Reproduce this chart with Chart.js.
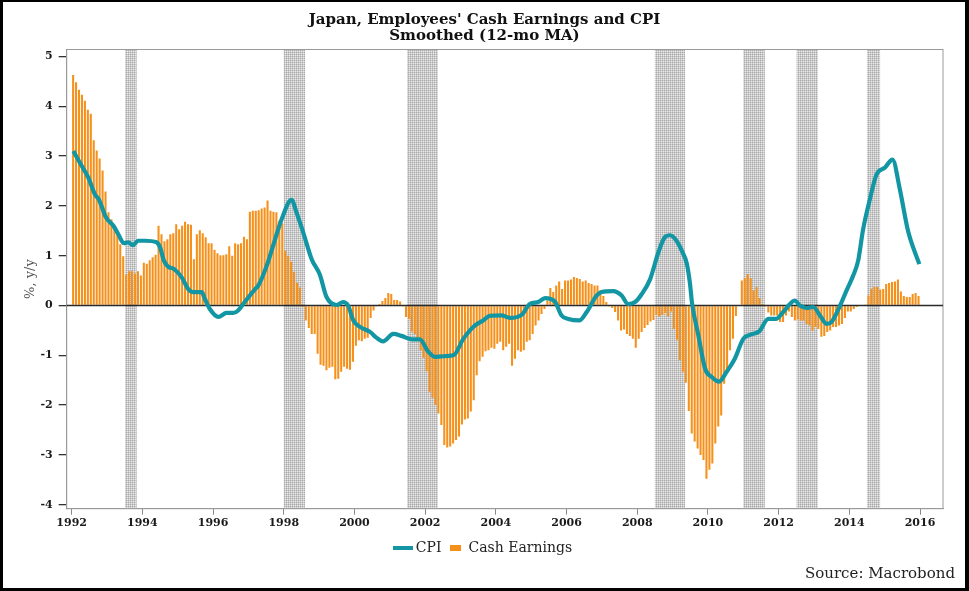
<!DOCTYPE html>
<html>
<head>
<meta charset="utf-8">
<title>Japan, Employees' Cash Earnings and CPI</title>
<script src="https://cdn.jsdelivr.net/npm/chart.js@4.4.1/dist/chart.umd.min.js"></script>
<style>
  html, body { margin: 0; padding: 0; background: #fff; }
  #wrap { position: relative; width: 969px; height: 591px; }
  #chart { position: absolute; left: 0; top: 0; }
  #frame {
    position: absolute; left: 0; top: 0; width: 969px; height: 591px; box-sizing: border-box;
    border: 3px solid #000; border-top-width: 2px; border-right-width: 4px; pointer-events: none;
  }
</style>
</head>
<body>
<div id="wrap">
  <canvas id="chart" width="969" height="591"></canvas>
  <div id="frame"></div>
</div>
<script>
/*
  Japan, Employees' Cash Earnings and CPI - smoothed (12-mo MA), % y/y
  - monthly cash earnings as bars, CPI as a line, recession periods shaded
*/

// --- Data ---

const titleLines = ["Japan, Employees' Cash Earnings and CPI", "Smoothed (12-mo MA)"];
const yAxisLabel = "%, y/y";
const sourceText = "Source: Macrobond";

const startYear = 1992; // first monthly bar is Jan 1992
const xTicks = [1992, 1994, 1996, 1998, 2000, 2002, 2004, 2006, 2008, 2010, 2012, 2014, 2016];
const yTicks = [-4, -3, -2, -1, 0, 1, 2, 3, 4, 5];

// Cash earnings, % y/y, one value per month Jan 1992 - Dec 2015
const cashEarnings = [
  4.63, 4.48, 4.33, 4.23, 4.11, 3.93, 3.85, 3.32, 3.11, 2.95, 2.71, 2.29,          // 1992
  1.87, 1.73, 1.62, 1.45, 1.23, 0.99, 0.62, 0.69, 0.69, 0.64, 0.69, 0.60,          // 1993
  0.86, 0.84, 0.91, 0.97, 1.02, 1.60, 1.43, 1.29, 1.33, 1.43, 1.45, 1.63,          // 1994
  1.53, 1.60, 1.68, 1.63, 1.62, 0.93, 1.43, 1.51, 1.45, 1.37, 1.25, 1.25,          // 1995
  1.12, 1.05, 1.01, 1.01, 1.03, 1.19, 1.00, 1.25, 1.23, 1.25, 1.38, 1.33,          // 1996
  1.88, 1.90, 1.90, 1.91, 1.95, 1.97, 2.11, 1.90, 1.88, 1.87, 1.70, 1.65,          // 1997
  1.10, 1.00, 0.88, 0.68, 0.45, 0.36, -0.03, -0.30, -0.45, -0.57, -0.57, -0.97,    // 1998
  -1.19, -1.21, -1.30, -1.25, -1.23, -1.48, -1.47, -1.33, -1.23, -1.27, -1.29, -1.13, // 1999
  -0.81, -0.70, -0.72, -0.67, -0.65, -0.25, -0.10, -0.02, 0.03, 0.09, 0.15, 0.25,  // 2000
  0.23, 0.11, 0.11, 0.08, -0.02, -0.23, -0.27, -0.52, -0.57, -0.67, -0.90, -1.05,  // 2001
  -1.32, -1.73, -1.85, -2.00, -2.17, -2.40, -2.80, -2.85, -2.83, -2.77, -2.70, -2.63, // 2002
  -2.39, -2.29, -2.27, -2.13, -1.90, -1.40, -1.12, -1.03, -0.92, -0.90, -0.85, -0.87, // 2003
  -0.77, -0.73, -0.90, -0.83, -0.77, -1.21, -1.07, -0.90, -0.93, -0.90, -0.73, -0.70, // 2004
  -0.57, -0.40, -0.30, -0.17, -0.07, 0.10, 0.35, 0.27, 0.40, 0.48, 0.33, 0.50,     // 2005
  0.50, 0.52, 0.57, 0.55, 0.53, 0.48, 0.50, 0.45, 0.43, 0.40, 0.40, 0.30,          // 2006
  0.19, 0.07, -0.01, -0.05, -0.13, -0.30, -0.50, -0.48, -0.57, -0.61, -0.67, -0.85, // 2007
  -0.67, -0.53, -0.45, -0.39, -0.32, -0.29, -0.19, -0.22, -0.19, -0.15, -0.22, -0.12, // 2008
  -0.47, -0.69, -1.10, -1.33, -1.55, -2.12, -2.57, -2.73, -2.87, -3.00, -3.10, -3.48, // 2009
  -3.30, -3.17, -2.77, -2.43, -2.21, -1.57, -1.27, -0.90, -0.67, -0.21, 0.00, 0.50, // 2010
  0.55, 0.63, 0.55, 0.30, 0.37, 0.15, 0.03, -0.02, -0.14, -0.20, -0.20, -0.20,     // 2011
  -0.33, -0.33, -0.20, -0.12, -0.23, -0.30, -0.28, -0.30, -0.30, -0.37, -0.40, -0.50, // 2012
  -0.43, -0.47, -0.63, -0.61, -0.53, -0.50, -0.43, -0.43, -0.40, -0.37, -0.25, -0.12, // 2013
  -0.12, -0.07, -0.03, 0.00, 0.00, 0.02, 0.20, 0.33, 0.37, 0.37, 0.32, 0.33,       // 2014
  0.43, 0.45, 0.47, 0.48, 0.52, 0.28, 0.19, 0.17, 0.17, 0.23, 0.25, 0.19           // 2015
];

// CPI, % y/y (12-mo MA)
const cpiDates = [
  1992.05, 1992.23, 1992.47, 1992.66, 1992.77, 1992.97, 1993.18, 1993.32, 1993.48, 1993.60,
  1993.73, 1993.88, 1994.07, 1994.40, 1994.50, 1994.61, 1994.73, 1994.90, 1995.11, 1995.30,
  1995.44, 1995.68, 1995.77, 1995.91, 1996.15, 1996.38, 1996.57, 1996.71, 1996.85, 1997.19,
  1997.28, 1997.52, 1997.70, 1997.94, 1998.22, 1998.36, 1998.55, 1998.79, 1999.02, 1999.21,
  1999.50, 1999.68, 1999.82, 1999.97, 2000.16, 2000.44, 2000.63, 2000.81, 2001.10, 2001.33,
  2001.62, 2001.85, 2002.09, 2002.28, 2002.47, 2002.80, 2003.08, 2003.36, 2003.64, 2003.83,
  2004.16, 2004.40, 2004.73, 2004.96, 2005.20, 2005.39, 2005.67, 2005.86, 2006.05, 2006.36,
  2006.57, 2006.85, 2006.99, 2007.32, 2007.56, 2007.74, 2007.94, 2008.12, 2008.36, 2008.60,
  2008.78, 2008.93, 2009.11, 2009.28, 2009.40, 2009.49, 2009.55, 2009.73, 2009.92, 2010.10,
  2010.31, 2010.53, 2010.76, 2011.00, 2011.19, 2011.45, 2011.71, 2011.92, 2012.13, 2012.32,
  2012.46, 2012.60, 2012.79, 2012.98, 2013.17, 2013.36, 2013.50, 2013.74, 2013.92, 2014.11,
  2014.25, 2014.39, 2014.58, 2014.77, 2015.01, 2015.22, 2015.43, 2015.66, 2015.98
];
const cpiValues = [
  3.10, 2.87, 2.57, 2.23, 2.13, 1.77, 1.60, 1.43, 1.25, 1.27,
  1.21, 1.30, 1.30, 1.27, 1.17, 0.90, 0.78, 0.73, 0.57, 0.33,
  0.27, 0.27, 0.13, -0.07, -0.23, -0.15, -0.15, -0.10, 0.03, 0.33,
  0.40, 0.80, 1.20, 1.73, 2.12, 1.87, 1.47, 0.93, 0.62, 0.17,
  0.01, 0.07, 0.00, -0.30, -0.43, -0.53, -0.65, -0.72, -0.57, -0.61,
  -0.68, -0.68, -0.93, -1.03, -1.02, -1.00, -0.67, -0.43, -0.30, -0.21,
  -0.20, -0.25, -0.19, 0.03, 0.07, 0.15, 0.08, -0.20, -0.27, -0.30,
  -0.13, 0.20, 0.27, 0.29, 0.20, 0.03, 0.07, 0.22, 0.52, 1.07,
  1.37, 1.41, 1.30, 1.07, 0.85, 0.45, 0.05, -0.60, -1.27, -1.43,
  -1.53, -1.33, -1.07, -0.67, -0.59, -0.52, -0.27, -0.27, -0.13, 0.03,
  0.10, 0.00, -0.05, -0.03, -0.20, -0.37, -0.33, 0.00, 0.30, 0.60,
  0.90, 1.53, 2.13, 2.63, 2.77, 2.93, 2.33, 1.50, 0.83
];

// Recession periods (shaded)
const recessionStart = [1993.51, 1998.00, 2001.49, 2008.50, 2011.00, 2012.51, 2014.50];
const recessionEnd   = [1993.84, 1998.60, 2002.36, 2009.35, 2011.61, 2013.11, 2014.87];

// --- Styles ---

const SERIF = "'DejaVu Serif', 'Liberation Serif', serif";
const CPI_COLOR = '#1396a4';
const BAR_COLOR = '#f5901a';
const X_MIN = 1991.86, X_MAX = 2016.65;
const Y_MIN = -4.08, Y_MAX = 5.14;

// fine grey cross-hatch used for the recession shading
function makeHatch(){
  const c = document.createElement('canvas');
  c.width = 2; c.height = 2;
  const g = c.getContext('2d');
  g.fillStyle = '#a9a9a9'; g.fillRect(0, 0, 1, 1);
  g.fillStyle = '#cbcbcb'; g.fillRect(1, 0, 1, 1); g.fillRect(0, 1, 1, 1);
  g.fillStyle = '#e8e8e8'; g.fillRect(1, 1, 1, 1);
  return g.createPattern(c, 'repeat');
}

// legend swatches: a short thick line for CPI, a small flat box for the bars
function makeSwatch(w, h, color){
  const c = document.createElement('canvas');
  c.width = w; c.height = h;
  const g = c.getContext('2d');
  g.fillStyle = color;
  g.fillRect(0, 0, w, h);
  return c;
}
const cpiSwatch = makeSwatch(20, 4, CPI_COLOR);
const barSwatch = makeSwatch(11, 6, BAR_COLOR);

const decorPlugin = {
  id: 'decor',
  beforeDatasetsDraw(chart){
    const { ctx, chartArea: a, scales: { x } } = chart;
    ctx.save();
    ctx.fillStyle = makeHatch();
    recessionStart.forEach((s, i) => {
      const x0 = x.getPixelForValue(s);
      const x1 = x.getPixelForValue(recessionEnd[i]);
      ctx.fillRect(x0, a.top, x1 - x0, a.bottom - a.top);
    });
    // plot frame
    ctx.strokeStyle = '#9a9a9a';
    ctx.lineWidth = 1;
    ctx.strokeRect(a.left, a.top, a.right - a.left, a.bottom - a.top);
    ctx.restore();
  },
  afterDatasetDraw(chart, args){
    if (args.index !== 1) return; // zero line goes over bars, under CPI
    const { ctx, chartArea: a, scales: { y } } = chart;
    const y0 = y.getPixelForValue(0);
    ctx.save();
    ctx.strokeStyle = '#2a2a2a';
    ctx.lineWidth = 1.4;
    ctx.beginPath();
    ctx.moveTo(a.left, y0);
    ctx.lineTo(a.right, y0);
    ctx.stroke();
    ctx.restore();
  }
};

// --- Chart ---

const ctx = document.getElementById('chart').getContext('2d');
new Chart(ctx, {
  type: 'bar',
  data: {
    datasets: [
      {
        type: 'line',
        label: 'CPI',
        data: cpiDates.map((d, i) => ({ x: d, y: cpiValues[i] })),
        borderColor: CPI_COLOR,
        backgroundColor: CPI_COLOR,
        borderWidth: 4.2,
        pointRadius: 0,
        pointStyle: cpiSwatch,
        cubicInterpolationMode: 'monotone',
        borderJoinStyle: 'round'
      },
      {
        type: 'bar',
        label: 'Cash Earnings',
        data: cashEarnings.map((v, i) => ({ x: startYear + (i + 0.5) / 12, y: v })),
        backgroundColor: BAR_COLOR,
        borderWidth: 0,
        barPercentage: 0.7,
        categoryPercentage: 1,
        pointStyle: barSwatch
      }
    ]
  },
  options: {
    responsive: false,
    animation: false,
    layout: { padding: { left: 14, right: 14, top: 0, bottom: 0 } },
    plugins: {
      title: {
        display: true,
        text: titleLines,
        color: '#111',
        font: { family: SERIF, size: 15, weight: 'bold', lineHeight: 1.05 },
        padding: { top: 12, bottom: 6 }
      },
      subtitle: {
        display: true,
        position: 'bottom',
        align: 'end',
        text: sourceText,
        color: '#222',
        font: { family: SERIF, size: 15, weight: 'normal', lineHeight: 1.2 },
        padding: { top: 0, bottom: 8 }
      },
      legend: {
        position: 'bottom',
        labels: {
          usePointStyle: true,
          pointStyleWidth: 12,
          boxHeight: 14,
          padding: 8,
          color: '#222',
          font: { family: SERIF, size: 14 }
        }
      },
      tooltip: { enabled: false }
    },
    scales: {
      x: {
        type: 'linear',
        min: X_MIN,
        max: X_MAX,
        offset: false,
        grid: { display: true, offset: false, drawOnChartArea: false, drawTicks: true, tickLength: 6, color: '#8a8a8a' },
        border: { display: true, color: '#9a9a9a' },
        ticks: {
          color: '#1a1a1a',
          padding: 2,
          maxRotation: 0,
          autoSkip: false,
          font: { family: SERIF, size: 11, weight: 'bold' },
          callback: v => String(v)
        },
        afterBuildTicks: s => { s.ticks = xTicks.map(v => ({ value: v })); },
        afterFit: s => { s.height = 24.3; }
      },
      y: {
        min: Y_MIN,
        max: Y_MAX,
        grid: { display: true, drawOnChartArea: false, drawTicks: true, tickLength: 8, color: '#333', lineWidth: 1.3 },
        border: { display: true, color: '#9a9a9a' },
        ticks: {
          color: '#1a1a1a',
          padding: 6,
          font: { family: SERIF, size: 11, weight: 'bold' },
          callback: v => String(v)
        },
        title: {
          display: true,
          text: yAxisLabel,
          color: '#555',
          font: { family: SERIF, size: 13 },
          padding: { top: 9, bottom: 0 }
        },
        afterBuildTicks: s => { s.ticks = yTicks.map(v => ({ value: v })); },
        afterFit: s => { s.width = 52.7; }
      },
      yRight: {
        position: 'right',
        display: true,
        grid: { display: false },
        border: { display: false },
        ticks: { display: false },
        afterFit: s => { s.width = 12; }
      }
    }
  },
  plugins: [decorPlugin]
});
</script>
</body>
</html>
